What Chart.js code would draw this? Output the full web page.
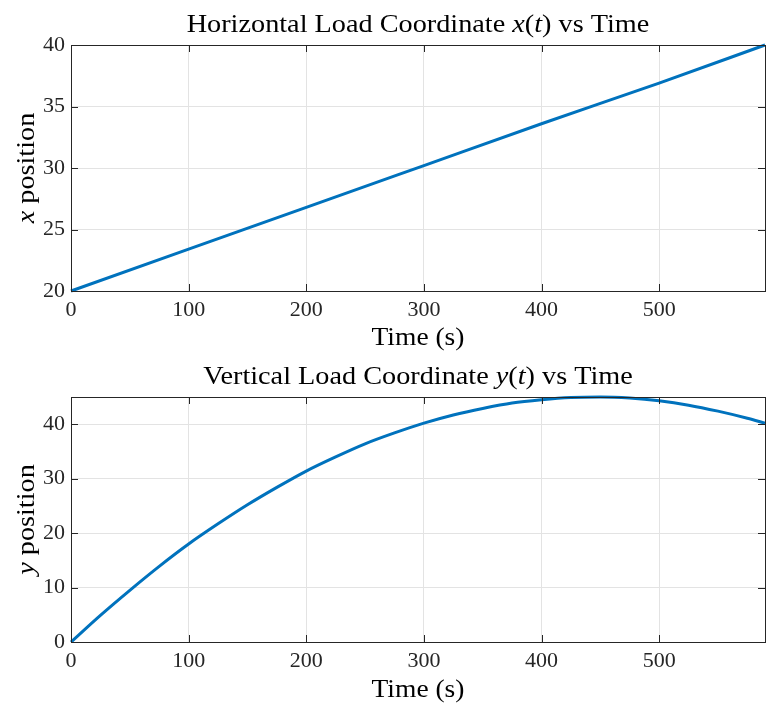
<!DOCTYPE html>
<html>
<head>
<meta charset="utf-8">
<script src="https://cdn.jsdelivr.net/npm/chart.js@4.4.1/dist/chart.umd.min.js"></script>
<style>
body { margin: 0; background: #fff; }
canvas { display: block; }
</style>
</head>
<body>
<canvas id="topChart" width="769" height="352"></canvas>
<canvas id="bottomChart" width="769" height="352"></canvas>
<script>
// values
const timeX = [0, 100, 200, 300, 400, 500, 590];
const xPosition = [20, 23.4, 26.8, 30.2, 33.6, 36.9, 40];

const timeY = [0, 25, 50, 75, 100, 125, 150, 175, 200, 225, 250, 275, 300, 325, 350, 375, 400, 425, 450, 475, 500, 525, 550, 575, 590];
const yPosition = [0, 4.9, 9.5, 13.9, 18.0, 21.7, 25.2, 28.4, 31.4, 34.0, 36.4, 38.4, 40.2, 41.7, 42.9, 43.9, 44.5, 44.9, 45.0, 44.8, 44.3, 43.5, 42.4, 41.1, 40.2];

const timeTicks = [0, 100, 200, 300, 400, 500];
const xTicks = [20, 25, 30, 35, 40];
const yTicks = [0, 10, 20, 30, 40];

const serif = "'Liberation Serif', 'DejaVu Serif', serif";
const inkColor = '#262626';
const lineColor = '#0072BD';

function drawRich(ctx, parts, x, y, size, stretch) {
    // parts: [text, italic]
    let total = 0;
    parts.forEach(p => {
        ctx.font = (p[1] ? 'italic ' : '') + size + 'px ' + serif;
        total += ctx.measureText(p[0]).width;
    });
    ctx.save();
    ctx.translate(x, y);
    ctx.scale(stretch, 1);
    let cx = -total / 2;
    ctx.textAlign = 'left';
    ctx.textBaseline = 'middle';
    parts.forEach(p => {
        ctx.font = (p[1] ? 'italic ' : '') + size + 'px ' + serif;
        ctx.fillText(p[0], cx, 0);
        cx += ctx.measureText(p[0]).width;
    });
    ctx.restore();
}

const matlabAxes = {
    id: 'matlabAxes',
    afterDraw(chart, args, opts) {
        const ctx = chart.ctx;
        const a = chart.chartArea;
        ctx.save();
        ctx.strokeStyle = inkColor;
        ctx.lineWidth = 1;
        ctx.beginPath();
        chart.scales.x.ticks.forEach(t => {
            const px = Math.round(chart.scales.x.getPixelForValue(t.value)) + 0.5;
            ctx.moveTo(px, a.bottom); ctx.lineTo(px, a.bottom - 7);
            ctx.moveTo(px, a.top); ctx.lineTo(px, a.top + 7);
        });
        chart.scales.y.ticks.forEach(t => {
            const py = Math.round(chart.scales.y.getPixelForValue(t.value)) + 0.5;
            ctx.moveTo(a.left, py); ctx.lineTo(a.left + 7, py);
            ctx.moveTo(a.right, py); ctx.lineTo(a.right - 7, py);
        });
        ctx.stroke();
        ctx.strokeRect(Math.round(a.left) + 0.5, Math.round(a.top) + 0.5,
            Math.round(a.right - a.left), Math.round(a.bottom - a.top));

        ctx.fillStyle = '#000';
        const midX = (a.left + a.right) / 2;
        drawRich(ctx, opts.title, midX, 25, 25, 1.13);
        drawRich(ctx, [['Time (s)', false]], midX, 338, 25, 1.1);
        ctx.translate(27, (a.top + a.bottom) / 2);
        ctx.rotate(-Math.PI / 2);
        drawRich(ctx, opts.ylabel, 0, 0, 25, 1.13);
        ctx.restore();
    }
};

function makeChart(id, times, values, yMin, yMax, tickList, xAxisHeight, title, ylabel) {
    const points = times.map((t, i) => ({ x: t, y: values[i] }));
    return new Chart(document.getElementById(id).getContext('2d'), {
        type: 'scatter',
        data: {
            datasets: [{
                data: points,
                showLine: true,
                borderColor: lineColor,
                borderWidth: 3,
                pointRadius: 0,
                cubicInterpolationMode: 'monotone',
                clip: false
            }]
        },
        options: {
            responsive: false,
            animation: false,
            devicePixelRatio: 1,
            layout: { padding: { top: 45, right: 4, left: 0, bottom: 0 } },
            plugins: {
                legend: { display: false },
                tooltip: { enabled: false },
                matlabAxes: { title: title, ylabel: ylabel }
            },
            scales: {
                x: {
                    type: 'linear',
                    min: 0,
                    max: 590,
                    afterFit: s => { s.height = xAxisHeight; },
                    afterBuildTicks: s => { s.ticks = timeTicks.map(v => ({ value: v })); },
                    grid: { color: '#e3e3e3', drawTicks: false },
                    border: { display: false },
                    ticks: { color: inkColor, font: { family: serif, size: 22 }, padding: 6, maxRotation: 0 }
                },
                y: {
                    type: 'linear',
                    min: yMin,
                    max: yMax,
                    afterFit: s => { s.width = 71; },
                    afterBuildTicks: s => { s.ticks = tickList.map(v => ({ value: v })); },
                    grid: { color: '#e3e3e3', drawTicks: false },
                    border: { display: false },
                    ticks: { color: inkColor, font: { family: serif, size: 22 }, padding: 6 }
                }
            }
        },
        plugins: [matlabAxes]
    });
}

makeChart('topChart', timeX, xPosition, 20, 40, xTicks, 61,
    [['Horizontal Load Coordinate ', false], ['x', true], ['(', false], ['t', true], [') vs Time', false]],
    [['x', true], [' position', false]]);

makeChart('bottomChart', timeY, yPosition, 0, 45, yTicks, 62,
    [['Vertical Load Coordinate ', false], ['y', true], ['(', false], ['t', true], [') vs Time', false]],
    [['y', true], [' position', false]]);
</script>
</body>
</html>
